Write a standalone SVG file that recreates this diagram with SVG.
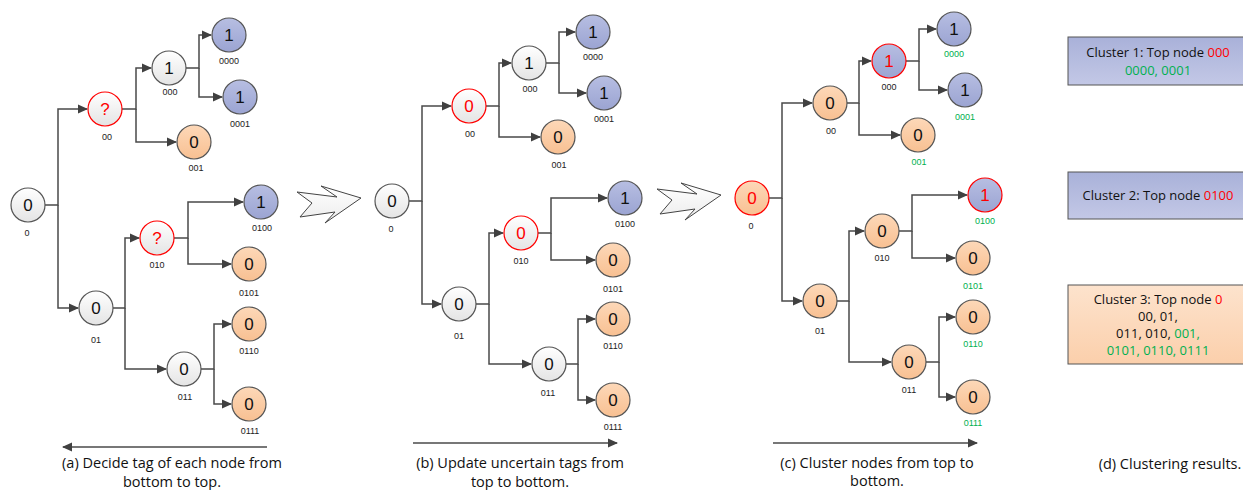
<svg xmlns="http://www.w3.org/2000/svg" width="1243" height="490" viewBox="0 0 1243 490">
  <defs>
    <linearGradient id="gWhite" x1="0" y1="0" x2="0" y2="1">
      <stop offset="0" stop-color="#ffffff"/>
      <stop offset="1" stop-color="#e4e4e4"/>
    </linearGradient>
    <linearGradient id="gOrange" x1="0" y1="0" x2="0" y2="1">
      <stop offset="0" stop-color="#fdd8b8"/>
      <stop offset="1" stop-color="#f8c092"/>
    </linearGradient>
    <linearGradient id="gBlue" x1="0" y1="0" x2="0" y2="1">
      <stop offset="0" stop-color="#b7bee2"/>
      <stop offset="1" stop-color="#9ba4d2"/>
    </linearGradient>
    <linearGradient id="gBoxBlue" x1="0" y1="0" x2="0" y2="1">
      <stop offset="0" stop-color="#a9b1d9"/>
      <stop offset="1" stop-color="#c3c8e6"/>
    </linearGradient>
    <linearGradient id="gBoxOrange" x1="0" y1="0" x2="0" y2="1">
      <stop offset="0" stop-color="#fde3cd"/>
      <stop offset="1" stop-color="#fbcfab"/>
    </linearGradient>
    <linearGradient id="gChevron" x1="0" y1="0" x2="0" y2="1">
      <stop offset="0" stop-color="#ffffff"/>
      <stop offset="1" stop-color="#ececec"/>
    </linearGradient>
    <marker id="arr" viewBox="0 0 10 10" refX="9" refY="5" markerWidth="10" markerHeight="10" markerUnits="userSpaceOnUse" orient="auto">
      <path d="M0,0.5 L10,5 L0,9.5 Z" fill="#404040"/>
    </marker>
    <style>
      .n circle { stroke: #555555; stroke-width: 1.2; }
      .w circle { fill: url(#gWhite); }
      .o circle { fill: url(#gOrange); }
      .b circle { fill: url(#gBlue); }
      .r circle { stroke: #ff0000; }
      .v { font-family: "Liberation Sans", Arial, sans-serif; font-size: 17px; text-anchor: middle; fill: #111111; }
      .r .v { fill: #ff0000; }
      .lb { font-family: "Liberation Sans", Arial, sans-serif; font-size: 9px; text-anchor: middle; fill: #222222; }
      .c path { fill: none; stroke: #4a4a4a; stroke-width: 1.5; }
      .cap { font-family: "Open Sans", "Liberation Sans", sans-serif; font-size: 14.5px; text-anchor: middle; fill: #111111; }
      .box { stroke: #555555; stroke-width: 1; }
      .bt { font-family: "Open Sans", "Liberation Sans", sans-serif; font-size: 13px; text-anchor: middle; fill: #111111; }
      .lb.g, .bt.g, tspan.g { fill: #00b050; }
      tspan.red { fill: #ff0000; }
      .chev { fill: url(#gChevron); stroke: #444444; stroke-width: 1; }
    </style>
  </defs>

  <!-- ===== connectors ===== -->
  <g id="connectors" class="c">
    <!-- tree (a) -->
    <path d="M45,205 H58 V109 H87" marker-end="url(#arr)"/>
    <path d="M58,205 V308 H78" marker-end="url(#arr)"/>
    <path d="M122,109 H136 V68 H151" marker-end="url(#arr)"/>
    <path d="M136,109 V142 H176" marker-end="url(#arr)"/>
    <path d="M186,68 H199 V35 H211" marker-end="url(#arr)"/>
    <path d="M199,68 V97 H222" marker-end="url(#arr)"/>
    <path d="M113,308 H125 V238 H139" marker-end="url(#arr)"/>
    <path d="M125,308 V369 H166" marker-end="url(#arr)"/>
    <path d="M174,238 H188 V202 H243" marker-end="url(#arr)"/>
    <path d="M188,238 V264 H231" marker-end="url(#arr)"/>
    <path d="M201,369 H214 V324 H231" marker-end="url(#arr)"/>
    <path d="M214,369 V404 H231" marker-end="url(#arr)"/>
    <path d="M267,447 H63" marker-end="url(#arr)"/>

    <!-- tree (b) -->
    <path d="M409,201 H422 V106 H451" marker-end="url(#arr)"/>
    <path d="M422,201 V304 H441" marker-end="url(#arr)"/>
    <path d="M486,106 H499 V63 H511" marker-end="url(#arr)"/>
    <path d="M499,106 V137 H540" marker-end="url(#arr)"/>
    <path d="M546,63 H559 V32 H575" marker-end="url(#arr)"/>
    <path d="M559,63 V93 H586" marker-end="url(#arr)"/>
    <path d="M476,304 H489 V233 H503" marker-end="url(#arr)"/>
    <path d="M489,304 V364 H531" marker-end="url(#arr)"/>
    <path d="M538,233 H551 V198 H607" marker-end="url(#arr)"/>
    <path d="M551,233 V260 H595" marker-end="url(#arr)"/>
    <path d="M566,364 H578 V319 H595" marker-end="url(#arr)"/>
    <path d="M578,364 V400 H595" marker-end="url(#arr)"/>
    <path d="M413,443 H617" marker-end="url(#arr)"/>

    <!-- tree (c) -->
    <path d="M769,198 H782 V103 H812" marker-end="url(#arr)"/>
    <path d="M782,198 V301 H802" marker-end="url(#arr)"/>
    <path d="M847,103 H859 V61 H871" marker-end="url(#arr)"/>
    <path d="M859,103 V135 H900" marker-end="url(#arr)"/>
    <path d="M906,61 H919 V29 H936" marker-end="url(#arr)"/>
    <path d="M919,61 V90 H947" marker-end="url(#arr)"/>
    <path d="M837,301 H849 V231 H864" marker-end="url(#arr)"/>
    <path d="M849,301 V362 H891" marker-end="url(#arr)"/>
    <path d="M899,231 H912 V195 H967" marker-end="url(#arr)"/>
    <path d="M912,231 V258 H955" marker-end="url(#arr)"/>
    <path d="M926,362 H939 V317 H955" marker-end="url(#arr)"/>
    <path d="M939,362 V397 H955" marker-end="url(#arr)"/>
    <path d="M773,443 H977" marker-end="url(#arr)"/>
  </g>

  <!-- step arrows between panels -->
  <g id="step-ab">
    <polygon class="chev" points="297,192 337,197 321,186 361,198 325,223 335,212 300,217 312,203"/>
  </g>
  <g id="step-bc">
    <polygon class="chev" points="657,189 697,194 681,183 721,195 685,220 695,209 660,214 672,200"/>
  </g>

  <!-- ===== tree (a): decide tags bottom-up ===== -->
  <g id="a-0" class="n w"><circle cx="28" cy="205" r="17"/><text class="v" x="28" y="211">0</text><text class="lb" x="27" y="236">0</text></g>
  <g id="a-00" class="n w r"><circle cx="105" cy="109" r="17"/><text class="v" x="105" y="115">?</text><text class="lb" x="107" y="140">00</text></g>
  <g id="a-000" class="n w"><circle cx="169" cy="68" r="17"/><text class="v" x="169" y="74">1</text><text class="lb" x="170" y="95">000</text></g>
  <g id="a-001" class="n o"><circle cx="194" cy="142" r="17"/><text class="v" x="194" y="148">0</text><text class="lb" x="196" y="171">001</text></g>
  <g id="a-0000" class="n b"><circle cx="229" cy="35" r="17"/><text class="v" x="229" y="41">1</text><text class="lb" x="229" y="64">0000</text></g>
  <g id="a-0001" class="n b"><circle cx="240" cy="97" r="17"/><text class="v" x="240" y="103">1</text><text class="lb" x="240" y="127">0001</text></g>
  <g id="a-01" class="n w"><circle cx="96" cy="308" r="17"/><text class="v" x="96" y="314">0</text><text class="lb" x="96" y="343">01</text></g>
  <g id="a-010" class="n w r"><circle cx="157" cy="238" r="17"/><text class="v" x="157" y="244">?</text><text class="lb" x="157" y="268">010</text></g>
  <g id="a-0100" class="n b"><circle cx="261" cy="202" r="17"/><text class="v" x="261" y="208">1</text><text class="lb" x="262" y="231">0100</text></g>
  <g id="a-0101" class="n o"><circle cx="249" cy="264" r="17"/><text class="v" x="249" y="270">0</text><text class="lb" x="249" y="296">0101</text></g>
  <g id="a-011" class="n w"><circle cx="184" cy="369" r="17"/><text class="v" x="184" y="375">0</text><text class="lb" x="185" y="400">011</text></g>
  <g id="a-0110" class="n o"><circle cx="249" cy="324" r="17"/><text class="v" x="249" y="330">0</text><text class="lb" x="249" y="354">0110</text></g>
  <g id="a-0111" class="n o"><circle cx="249" cy="404" r="17"/><text class="v" x="249" y="410">0</text><text class="lb" x="250" y="434">0111</text></g>
  <text class="cap" x="172" y="468">(a) Decide tag of each node from</text>
  <text class="cap" x="172" y="487">bottom to top.</text>

  <!-- ===== tree (b): update uncertain tags top-down ===== -->
  <g id="b-0" class="n w"><circle cx="392" cy="201" r="17"/><text class="v" x="392" y="207">0</text><text class="lb" x="391" y="232">0</text></g>
  <g id="b-00" class="n w r"><circle cx="469" cy="106" r="17"/><text class="v" x="469" y="112">0</text><text class="lb" x="470" y="137">00</text></g>
  <g id="b-000" class="n w"><circle cx="529" cy="63" r="17"/><text class="v" x="529" y="69">1</text><text class="lb" x="530" y="92">000</text></g>
  <g id="b-001" class="n o"><circle cx="558" cy="137" r="17"/><text class="v" x="558" y="143">0</text><text class="lb" x="559" y="168">001</text></g>
  <g id="b-0000" class="n b"><circle cx="593" cy="32" r="17"/><text class="v" x="593" y="38">1</text><text class="lb" x="593" y="60">0000</text></g>
  <g id="b-0001" class="n b"><circle cx="604" cy="93" r="17"/><text class="v" x="604" y="99">1</text><text class="lb" x="604" y="122">0001</text></g>
  <g id="b-01" class="n w"><circle cx="459" cy="304" r="17"/><text class="v" x="459" y="310">0</text><text class="lb" x="459" y="339">01</text></g>
  <g id="b-010" class="n w r"><circle cx="521" cy="233" r="17"/><text class="v" x="521" y="239">0</text><text class="lb" x="521" y="264">010</text></g>
  <g id="b-0100" class="n b"><circle cx="625" cy="198" r="17"/><text class="v" x="625" y="204">1</text><text class="lb" x="625" y="227">0100</text></g>
  <g id="b-0101" class="n o"><circle cx="613" cy="260" r="17"/><text class="v" x="613" y="266">0</text><text class="lb" x="613" y="292">0101</text></g>
  <g id="b-011" class="n w"><circle cx="549" cy="364" r="17"/><text class="v" x="549" y="370">0</text><text class="lb" x="548" y="396">011</text></g>
  <g id="b-0110" class="n o"><circle cx="613" cy="319" r="17"/><text class="v" x="613" y="325">0</text><text class="lb" x="613" y="349">0110</text></g>
  <g id="b-0111" class="n o"><circle cx="613" cy="400" r="17"/><text class="v" x="613" y="406">0</text><text class="lb" x="613" y="430">0111</text></g>
  <text class="cap" x="520" y="468">(b) Update uncertain tags from</text>
  <text class="cap" x="520" y="487">top to bottom.</text>

  <!-- ===== tree (c): cluster nodes top-down ===== -->
  <g id="c-0" class="n o r"><circle cx="752" cy="198" r="17"/><text class="v" x="752" y="204">0</text><text class="lb" x="751" y="229">0</text></g>
  <g id="c-00" class="n o"><circle cx="830" cy="103" r="17"/><text class="v" x="830" y="109">0</text><text class="lb" x="831" y="134">00</text></g>
  <g id="c-000" class="n b r"><circle cx="889" cy="61" r="17"/><text class="v" x="889" y="67">1</text><text class="lb" x="889" y="90">000</text></g>
  <g id="c-001" class="n o"><circle cx="918" cy="135" r="17"/><text class="v" x="918" y="141">0</text><text class="lb g" x="919" y="165">001</text></g>
  <g id="c-0000" class="n b"><circle cx="954" cy="29" r="17"/><text class="v" x="954" y="35">1</text><text class="lb g" x="954" y="57">0000</text></g>
  <g id="c-0001" class="n b"><circle cx="965" cy="90" r="17"/><text class="v" x="965" y="96">1</text><text class="lb g" x="965" y="120">0001</text></g>
  <g id="c-01" class="n o"><circle cx="820" cy="301" r="17"/><text class="v" x="820" y="307">0</text><text class="lb" x="820" y="334">01</text></g>
  <g id="c-010" class="n o"><circle cx="882" cy="231" r="17"/><text class="v" x="882" y="237">0</text><text class="lb" x="882" y="261">010</text></g>
  <g id="c-0100" class="n b r"><circle cx="985" cy="195" r="17"/><text class="v" x="985" y="201">1</text><text class="lb g" x="985" y="224">0100</text></g>
  <g id="c-0101" class="n o"><circle cx="973" cy="258" r="17"/><text class="v" x="973" y="264">0</text><text class="lb g" x="973" y="289">0101</text></g>
  <g id="c-011" class="n o"><circle cx="909" cy="362" r="17"/><text class="v" x="909" y="368">0</text><text class="lb" x="909" y="393">011</text></g>
  <g id="c-0110" class="n o"><circle cx="973" cy="317" r="17"/><text class="v" x="973" y="323">0</text><text class="lb g" x="973" y="347">0110</text></g>
  <g id="c-0111" class="n o"><circle cx="973" cy="397" r="17"/><text class="v" x="973" y="403">0</text><text class="lb g" x="973" y="426">0111</text></g>
  <text class="cap" x="877" y="468">(c) Cluster nodes from top to</text>
  <text class="cap" x="877" y="486">bottom.</text>

  <!-- ===== (d) clustering results ===== -->
  <g id="cluster-1">
    <rect class="box" x="1068" y="37" width="180" height="48" fill="url(#gBoxBlue)"/>
    <text class="bt" x="1158" y="57">Cluster 1: Top node <tspan class="red">000</tspan></text>
    <text class="bt g" x="1158" y="75">0000, 0001</text>
  </g>
  <g id="cluster-2">
    <rect class="box" x="1068" y="172" width="180" height="47" fill="url(#gBoxBlue)"/>
    <text class="bt" x="1158" y="200">Cluster 2: Top node <tspan class="red">0100</tspan></text>
  </g>
  <g id="cluster-3">
    <rect class="box" x="1068" y="285" width="180" height="79" fill="url(#gBoxOrange)"/>
    <text class="bt" x="1158" y="304">Cluster 3: Top node <tspan class="red">0</tspan></text>
    <text class="bt" x="1158" y="321">00, 01,</text>
    <text class="bt" x="1158" y="338">011, 010, <tspan class="g">001,</tspan></text>
    <text class="bt g" x="1158" y="355">0101, 0110, 0111</text>
  </g>
  <text class="cap" x="1170" y="469">(d) Clustering results.</text>
</svg>
